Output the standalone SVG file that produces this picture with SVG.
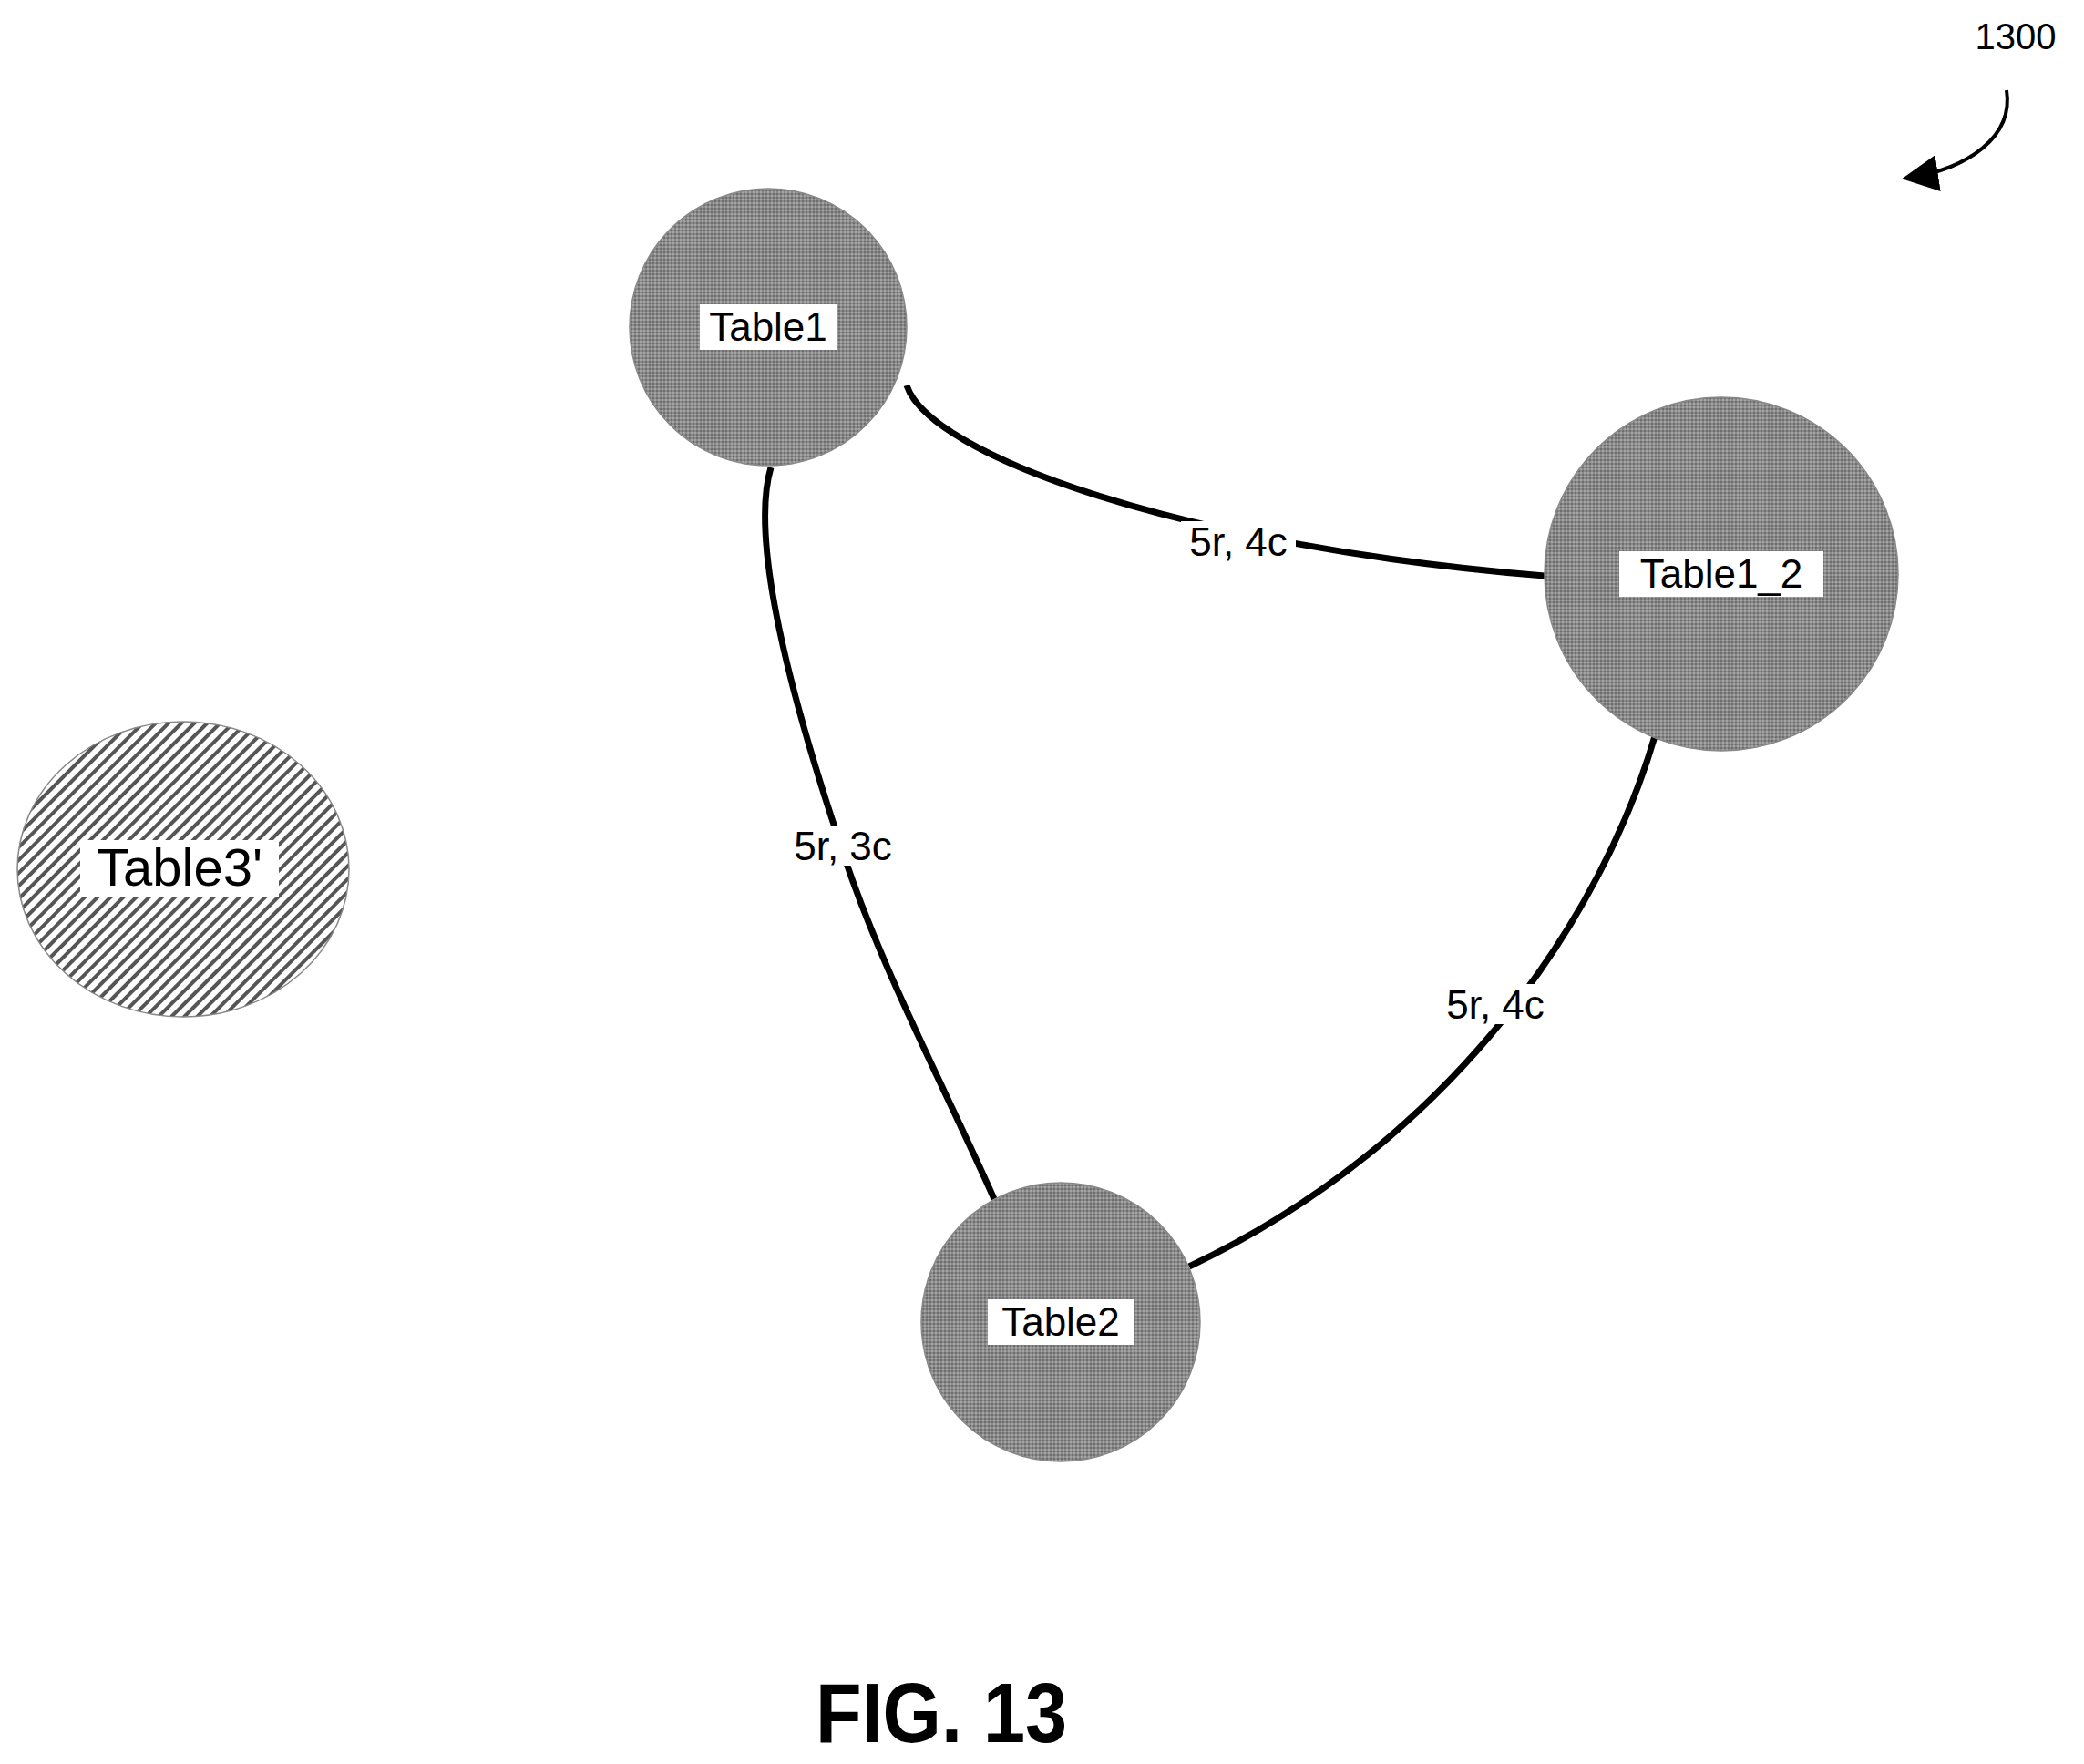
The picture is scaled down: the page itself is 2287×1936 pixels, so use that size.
<svg xmlns="http://www.w3.org/2000/svg" width="2287" height="1936" viewBox="0 0 2287 1936">
<style>
.lbl{font-family:"Liberation Sans",Arial,sans-serif;font-size:44px;fill:#000;text-anchor:middle}
.node{fill:url(#dots);stroke:#888;stroke-width:1.5}
.edge{fill:none;stroke:#000;stroke-width:7}
.bg{fill:#fff}
</style>
<defs>
<pattern id="dots" width="4" height="4" patternUnits="userSpaceOnUse">
<rect width="4" height="4" fill="#8a8a8a"/>
<rect width="2" height="2" fill="#6e6e6e"/>
<rect x="2" y="2" width="2" height="2" fill="#a4a4a4"/>
</pattern>
<pattern id="hatch" width="10" height="10" patternUnits="userSpaceOnUse" patternTransform="rotate(45)">
<rect width="10" height="10" fill="#fff"/>
<rect width="4" height="10" fill="#555"/>
</pattern>
<marker id="ah" markerWidth="10" markerHeight="10" refX="8" refY="5" orient="auto" markerUnits="strokeWidth">
<path d="M0,0 L10,5 L0,10 z" fill="#000"/>
</marker>
</defs>
<rect width="2287" height="1936" fill="#fff"/>
<g id="connectors">
<path class="edge" d="M995,423 C1020,500 1300,600 1695,632"/>
<path class="edge" d="M846,513 C820,600 880,800 920,920 C960,1050 1040,1200 1091,1316"/>
<path class="edge" d="M1816,808 C1760,1000 1600,1250 1305,1390"/>
<rect class="bg" x="1296" y="572" width="126" height="44"/>
<text class="lbl" x="1359" y="610">5r, 4c</text>
<rect class="bg" x="862" y="906" width="126" height="44"/>
<text class="lbl" x="925" y="944">5r, 3c</text>
<rect class="bg" x="1578" y="1080" width="126" height="44"/>
<text class="lbl" x="1641" y="1118">5r, 4c</text>
</g>
<g id="table1">
<circle class="node" cx="843" cy="359" r="152"/>
<rect class="bg" x="768" y="334" width="150" height="50"/>
<text class="lbl" x="843" y="374">Table1</text>
</g>
<g id="table1_2">
<circle class="node" cx="1889" cy="630" r="194"/>
<rect class="bg" x="1777" y="605" width="224" height="50"/>
<text class="lbl" x="1889" y="645">Table1_2</text>
</g>
<g id="table2">
<circle class="node" cx="1164" cy="1451" r="153"/>
<rect class="bg" x="1084" y="1426" width="160" height="50"/>
<text class="lbl" x="1164" y="1466">Table2</text>
</g>
<g id="table3">
<ellipse cx="201" cy="954" rx="182" ry="162" fill="url(#hatch)" stroke="#888" stroke-width="1.5"/>
<rect class="bg" x="88" y="922" width="218" height="62"/>
<text class="lbl" x="197" y="972" style="font-size:58px">Table3'</text>
</g>
<g id="ref">
<text class="lbl" x="2212" y="54" style="font-size:40px">1300</text>
<path d="M2202,99 C2210,150 2160,185 2095,195" fill="none" stroke="#000" stroke-width="4" marker-end="url(#ah)"/>
</g>
<text x="1033" y="1912" style="font-family:'Liberation Sans',Arial,sans-serif;font-weight:bold;font-size:92px;text-anchor:middle" textLength="276" lengthAdjust="spacingAndGlyphs">FIG. 13</text>
</svg>
